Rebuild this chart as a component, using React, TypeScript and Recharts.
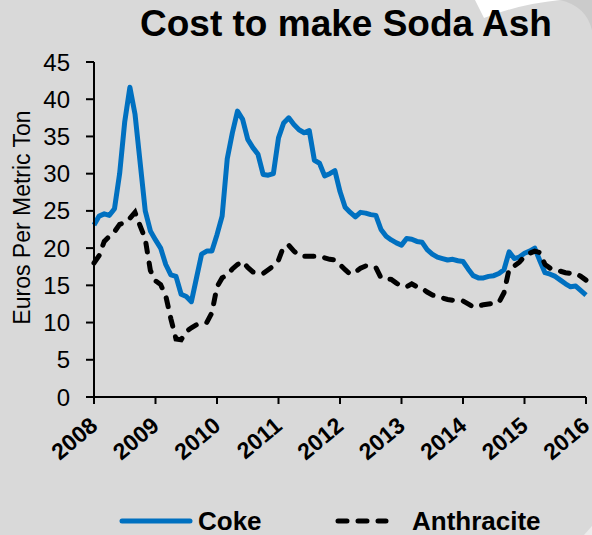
import React from "react";
import { LineChart, Line, XAxis, YAxis, Legend, Label } from "recharts";

// monthly readings, Jan 2008 .. Jan 2016
const coke = [
  23.1, 24.3, 24.6, 24.4, 25.3, 30.0, 37.0, 41.6, 38.0, 31.5, 25.0, 22.3,
  21.1, 20.0, 17.8, 16.4, 16.2, 13.8, 13.5, 12.8, 16.0, 19.2, 19.6, 19.6,
  21.8, 24.3, 32.0, 35.5, 38.4, 37.3, 34.6, 33.5, 32.6, 29.9, 29.8, 30.0,
  34.8, 36.8, 37.5, 36.6, 35.9, 35.5, 35.8, 31.8, 31.4, 29.7, 30.0, 30.4,
  27.6, 25.5, 24.8, 24.2, 24.8, 24.7, 24.5, 24.4, 22.5, 21.6, 21.1, 20.7,
  20.4, 21.3, 21.2, 20.9, 20.8, 19.8, 19.2, 18.8, 18.6, 18.4, 18.5, 18.3,
  18.2, 17.2, 16.3, 16.0, 16.0, 16.2, 16.3, 16.6, 17.1, 19.5, 18.6, 18.8,
  19.3, 19.6, 20.0, 18.3, 16.7, 16.5, 16.2, 15.7, 15.2, 14.8, 14.9, 14.3,
  13.7,
];

const anthracite = [
  18.0, 19.0, 20.9, 21.6, 22.2, 23.2, 23.4, 24.0, 24.8, 23.0, 21.2, 17.0,
  15.6, 15.1, 13.6, 10.5, 7.8, 7.7, 8.8, 9.3, 9.7, 9.9, 10.0, 11.3,
  14.8, 16.0, 16.4, 17.2, 17.8, 18.2, 17.4, 16.8, 16.6, 16.6, 17.1, 17.6,
  18.4, 20.2, 20.4, 19.6, 19.0, 18.9, 18.9, 18.9, 18.9, 18.7, 18.5, 18.4,
  17.8, 17.1, 16.5, 16.8, 17.3, 17.6, 17.5, 17.4, 16.0, 15.9, 15.8, 15.3,
  14.9, 14.8, 15.2, 14.8, 14.6, 14.1, 13.7, 13.5, 13.3, 13.1, 13.0, 12.9,
  12.9, 12.5, 12.1, 12.2, 12.4, 12.5, 12.6, 12.7, 14.0, 17.2, 17.6, 18.1,
  18.9, 19.3, 19.6, 19.4, 17.8, 17.3, 17.1, 16.9, 16.7, 16.6, 16.6, 16.2,
  15.7,
];

const years = ["2008", "2009", "2010", "2011", "2012", "2013", "2014", "2015", "2016"];
const yTicks = [0, 5, 10, 15, 20, 25, 30, 35, 40, 45];

const data = coke.map((c, i) => ({ month: i, coke: c, anthracite: anthracite[i] }));
const xTicks = years.map((_, i) => i * 12);

const FONT = "'Liberation Sans', Arial, sans-serif";
const BLUE = "#0070c0";

function YearTick(props: any) {
  const { x, y, payload } = props;
  const ex = x + 5;
  const ey = y + 24;
  return (
    <text
      x={ex}
      y={ey}
      transform={`rotate(-40, ${ex}, ${ey})`}
      textAnchor="end"
      fontFamily={FONT}
      fontSize={23}
      fontWeight="bold"
      fill="#000"
    >
      {years[Math.round(payload.value / 12)]}
    </text>
  );
}

function LegendBox() {
  return (
    <svg width={592} height={34} style={{ display: "block" }}>
      <line x1={122} y1={20} x2={190} y2={20} stroke={BLUE} strokeWidth={5} strokeLinecap="round" />
      <text x={198} y={29} fontFamily={FONT} fontSize={26} fontWeight="bold" fill="#000">
        Coke
      </text>
      <line
        x1={338}
        y1={20}
        x2={386}
        y2={20}
        stroke="#000"
        strokeWidth={5}
        strokeLinecap="round"
        strokeDasharray="9 11"
      />
      <text x={412} y={29} fontFamily={FONT} fontSize={26} fontWeight="bold" fill="#000">
        Anthracite
      </text>
    </svg>
  );
}

export default function App() {
  return (
    <div
      style={{
        position: "absolute",
        left: 0,
        top: 0,
        width: 592,
        height: 535,
        background: "#d9d9d9",
        overflow: "hidden",
      }}
    >
      {/* backdrop shapes and title */}
      <svg width={592} height={535} style={{ position: "absolute", left: 0, top: 0 }}>
        <path d="M560,0 Q586,6 592,30 L592,0 Z" fill="#cbcbcb" />
        <path d="M475,0 L484,18 Q520,4 560,0 Z" fill="#ffffff" />
        <path d="M584,535 L592,526 L592,535 Z" fill="#ececec" />
        <text
          x={346}
          y={36}
          textAnchor="middle"
          fontFamily={FONT}
          fontSize={37}
          fontWeight="bold"
          fill="#000"
        >
          Cost to make Soda Ash
        </text>
      </svg>
      <div style={{ position: "absolute", left: 0, top: 0 }}>
        <LineChart width={592} height={535} data={data} margin={{ top: 62, right: 6, bottom: 0, left: 0 }}>
          <XAxis
            dataKey="month"
            type="number"
            domain={[0, 96]}
            ticks={xTicks}
            interval={0}
            height={104}
            tickSize={7}
            tickMargin={0}
            tick={<YearTick />}
            axisLine={{ stroke: "#000", strokeWidth: 2 }}
            tickLine={{ stroke: "#000", strokeWidth: 2 }}
          />
          <YAxis
            domain={[0, 45]}
            ticks={yTicks}
            width={94}
            tickSize={8}
            tickMargin={16}
            tick={{ fill: "#000", fontSize: 24, fontFamily: FONT }}
            axisLine={{ stroke: "#000", strokeWidth: 2 }}
            tickLine={{ stroke: "#000", strokeWidth: 2 }}
          >
            <Label
              content={({ viewBox }: any) => {
                const cx = 22;
                const cy = viewBox.y + viewBox.height / 2 - 12;
                return (
                  <text
                    x={cx}
                    y={cy}
                    transform={`rotate(-90, ${cx}, ${cy})`}
                    textAnchor="middle"
                    dominantBaseline="central"
                    fontFamily={FONT}
                    fontSize={23}
                    fill="#000"
                  >
                    Euros Per Metric Ton
                  </text>
                );
              }}
            />
          </YAxis>
          <Legend
            verticalAlign="bottom"
            height={34}
            wrapperStyle={{ left: 0, bottom: 0, width: 592, height: 34 }}
            content={() => <LegendBox />}
          />
          <Line
            type="linear"
            dataKey="coke"
            name="Coke"
            stroke={BLUE}
            strokeWidth={5}
            dot={false}
            strokeLinejoin="round"
            isAnimationActive={false}
          />
          <Line
            type="linear"
            dataKey="anthracite"
            name="Anthracite"
            stroke="#000"
            strokeWidth={5}
            strokeDasharray="9 11"
            strokeLinecap="round"
            dot={false}
            isAnimationActive={false}
          />
        </LineChart>
      </div>
    </div>
  );
}
